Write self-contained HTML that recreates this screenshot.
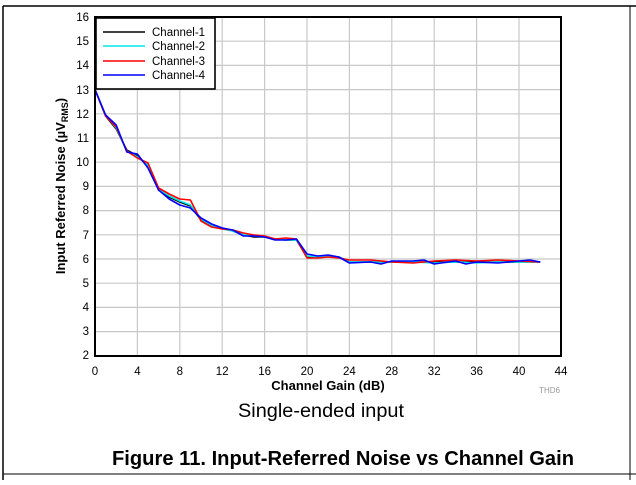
<!DOCTYPE html>
<html><head><meta charset="utf-8"><style>
body{margin:0;background:#fff;width:636px;height:480px;overflow:hidden;font-family:"Liberation Sans",sans-serif}
</style></head><body>
<svg width="636" height="480" xmlns="http://www.w3.org/2000/svg" font-family="Liberation Sans, sans-serif">
<line x1="3" y1="6" x2="636" y2="6" stroke="#000" stroke-width="1.5"/>
<line x1="3" y1="6" x2="3" y2="480" stroke="#000" stroke-width="1.5"/>
<line x1="630" y1="6" x2="630" y2="480" stroke="#000" stroke-width="1"/>
<line x1="3" y1="474" x2="636" y2="474" stroke="#000" stroke-width="1"/>
<g stroke="#c8c8c8" stroke-width="1.2">
<line x1="137.4" y1="17" x2="137.4" y2="356"/><line x1="179.8" y1="17" x2="179.8" y2="356"/><line x1="222.2" y1="17" x2="222.2" y2="356"/><line x1="264.6" y1="17" x2="264.6" y2="356"/><line x1="307" y1="17" x2="307" y2="356"/><line x1="349.4" y1="17" x2="349.4" y2="356"/><line x1="391.8" y1="17" x2="391.8" y2="356"/><line x1="434.2" y1="17" x2="434.2" y2="356"/><line x1="476.6" y1="17" x2="476.6" y2="356"/><line x1="519" y1="17" x2="519" y2="356"/>
<line x1="95" y1="41.2" x2="561" y2="41.2"/><line x1="95" y1="65.4" x2="561" y2="65.4"/><line x1="95" y1="89.6" x2="561" y2="89.6"/><line x1="95" y1="113.8" x2="561" y2="113.8"/><line x1="95" y1="138" x2="561" y2="138"/><line x1="95" y1="162.2" x2="561" y2="162.2"/><line x1="95" y1="186.4" x2="561" y2="186.4"/><line x1="95" y1="210.6" x2="561" y2="210.6"/><line x1="95" y1="234.8" x2="561" y2="234.8"/><line x1="95" y1="259" x2="561" y2="259"/><line x1="95" y1="283.2" x2="561" y2="283.2"/><line x1="95" y1="307.4" x2="561" y2="307.4"/><line x1="95" y1="331.6" x2="561" y2="331.6"/>
</g>
<g font-size="11.5" fill="#000" text-anchor="end">
<text x="89" y="21">16</text><text x="89" y="45">15</text><text x="89" y="69">14</text><text x="89" y="94">13</text><text x="89" y="118">12</text><text x="89" y="142">11</text><text x="89" y="166">10</text><text x="89" y="190">9</text><text x="89" y="214">8</text><text x="89" y="239">7</text><text x="89" y="263">6</text><text x="89" y="287">5</text><text x="89" y="311">4</text><text x="89" y="335">3</text><text x="89" y="359">2</text>
</g>
<g font-size="11.5" fill="#000" text-anchor="middle">
<text x="95" y="375">0</text><text x="137.4" y="375">4</text><text x="179.8" y="375">8</text><text x="222.2" y="375">12</text><text x="264.6" y="375">16</text><text x="307" y="375">20</text><text x="349.4" y="375">24</text><text x="391.8" y="375">28</text><text x="434.2" y="375">32</text><text x="476.6" y="375">36</text><text x="519" y="375">40</text><text x="561" y="375">44</text>
</g>
<text x="328" y="390" font-size="13" font-weight="bold" text-anchor="middle">Channel Gain (dB)</text>
<text x="560" y="393" font-size="8" fill="#999" text-anchor="end">THD6</text>
<text transform="translate(65,186) rotate(-90)" font-size="13" font-weight="bold" text-anchor="middle">Input Referred Noise (µV<tspan font-size="9" dy="3">RMS</tspan><tspan dy="-3">)</tspan></text>
<g fill="none" stroke-width="1.6" stroke-linejoin="round">
<polyline stroke="#000" points="95,89.6 105.6,116 116.2,129 126.8,150 137.4,156 148,166 158.6,190 169.2,197 179.8,202 190.4,206 201,220 211.6,226 222.2,228 232.8,231 243.4,235 254,237 264.6,237 275.2,239 285.8,240 296.4,240 307,257 317.6,257 328.2,256 338.8,257 349.4,262 370.6,262 391.8,262 413,262 434.2,262 455.4,262 476.6,262 497.8,262 519,262 540.2,262"/>
<polyline stroke="#00e5e5" points="95,89.6 105.6,115 116.2,128 126.8,151 137.4,157 148,165 158.6,189 169.2,196 179.8,201 190.4,205 201,219 211.6,226 222.2,229 232.8,231 243.4,235 254,236 264.6,237 275.2,239 285.8,240 296.4,240 307,256 317.6,257 328.2,256 338.8,257 349.4,262 370.6,262 391.8,262 413,262 434.2,263 455.4,262 476.6,263 497.8,262 519,262 540.2,262"/>
<polyline stroke="#f00" points="95,89.6 105.6,116 116.2,127 126.8,151 137.4,158 148,163 158.6,188 169.2,194 179.8,199 190.4,200 201,221 211.6,227 222.2,229 232.8,230 243.4,233 254,235 264.6,236 275.2,239 285.8,238 296.4,239 307,258 317.6,258 328.2,257 338.8,258 349.4,260 370.6,260 391.8,262 413,263 434.2,261 455.4,260 476.6,261 497.8,260 519,261 540.2,262"/>
<polyline stroke="#00f" points="95,89.6 105.6,115 116.2,125 126.8,152 137.4,154 148,168 158.6,190 169.2,199 179.8,205 190.4,208 201,218 211.6,224 222.2,228 232.8,230 243.4,236 254,236 264.6,237 275.2,240 285.8,240 296.4,239 307,254 317.6,256 328.2,255 338.8,257 349.4,263 370.6,262 381,264 391.8,261 413,261 424,260 434.2,264 455.4,261 466,264 476.6,262 497.8,263 519,261 530,260 540.2,262"/>
</g>
<rect x="95" y="17" width="466" height="339" fill="none" stroke="#000" stroke-width="2"/>
<rect x="96" y="18" width="119" height="71" fill="#fff" stroke="#000" stroke-width="1.6"/>
<g stroke-width="1.6">
<line x1="103" y1="32" x2="145" y2="32" stroke="#000"/>
<line x1="103" y1="46" x2="145" y2="46" stroke="#00e5e5"/>
<line x1="103" y1="61" x2="145" y2="61" stroke="#f00"/>
<line x1="103" y1="75" x2="145" y2="75" stroke="#00f"/>
</g>
<g font-size="11.5" fill="#000">
<text x="152" y="36">Channel-1</text><text x="152" y="50">Channel-2</text><text x="152" y="65">Channel-3</text><text x="152" y="79">Channel-4</text>
</g>
<text x="321" y="417" font-size="19.5" text-anchor="middle" textLength="166" lengthAdjust="spacingAndGlyphs">Single-ended input</text>
<text x="343" y="465" font-size="20" font-weight="bold" text-anchor="middle" textLength="462" lengthAdjust="spacingAndGlyphs">Figure 11. Input-Referred Noise vs Channel Gain</text>
</svg>
</body></html>
